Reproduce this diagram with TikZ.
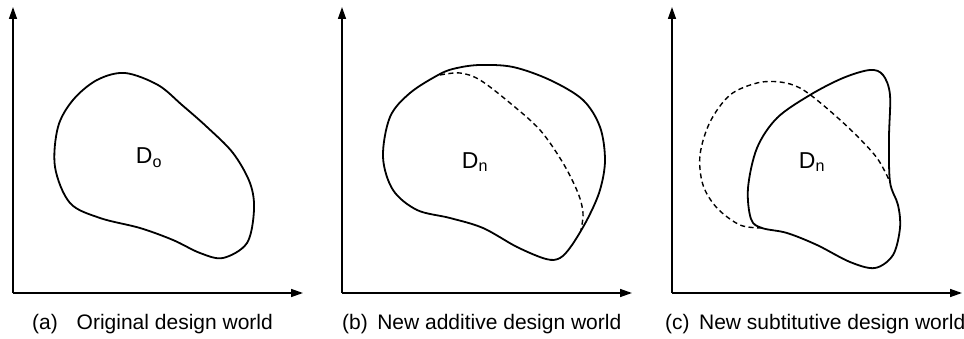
\documentclass[tikz,border=0pt]{standalone}
\usepackage{fontspec}
\setmainfont{Liberation Sans}
\usetikzlibrary{arrows.meta}
\begin{document}
\begin{tikzpicture}[x=1pt,y=-1pt,
  axis/.style={line width=1.5pt,-{Triangle[length=12pt,width=8pt]}},
  region/.style={line width=1.8pt},
  oldregion/.style={line width=1.4pt,dash pattern=on 5pt off 3.5pt},
  lbl/.style={font=\fontsize{23}{26}\selectfont,inner sep=0pt},
  captxt/.style={font=\fontsize{21}{25}\selectfont,inner sep=0pt,anchor=west}]
\useasboundingbox (0,0) rectangle (964,339);
% panel a
\coordinate (oa) at (13,293); \coordinate (ya) at (13,7); \coordinate (xa) at (303,293);
\draw[axis] (oa) -- (ya); \draw[axis] (oa) -- (xa);
\draw[region] plot[smooth cycle,tension=0.55] coordinates {(125,73) (158,85) (182,105) (207,127) (233,153) (250,183) (254,210) (247,243) (223,258) (200,253) (173,240) (140,228) (100,218) (70,203) (55,167) (58,127) (73,100) (97,80)};
\node[lbl] (do) at (149,158) {D\textsubscript{o}};
\node[captxt] (ca) at (32,324) {(a)\hspace{0.9em}Original design world};
% panel b
\coordinate (ob) at (342,293); \coordinate (yb) at (342,7); \coordinate (xb) at (632,293);
\draw[axis] (ob) -- (yb); \draw[axis] (ob) -- (xb);
\draw[region] plot[smooth cycle,tension=0.55] coordinates {(480,65) (513,67) (550,80) (583,100) (600,127) (605,160) (600,190) (588,218) (572,245) (560,258) (546,259) (517,247) (483,228) (450,218) (417,210) (393,190) (383,157) (390,117) (410,93) (440,74) (457,68)};
\draw[oldregion] plot[smooth,tension=0.55] coordinates {(440,75) (460,73) (480,80) (510,103) (540,130) (563,163) (578,193) (583,213) (581,230)};
\node[lbl] (dn1) at (475,162) {D\textsubscript{n}};
\node[captxt] (cb) at (342,324) {(b)\hspace{0.45em}New additive design world};
% panel c
\coordinate (oc) at (672,293); \coordinate (yc) at (672,7); \coordinate (xc) at (962,293);
\draw[axis] (oc) -- (yc); \draw[axis] (oc) -- (xc);
\draw[region] plot[smooth cycle,tension=0.55] coordinates {(870,70) (883,75) (890,95) (889,138) (890,182) (898,205) (900,228) (893,255) (875,268) (850,262) (817,245) (787,233) (762,228) (751,219) (748,188) (757,148) (777,118) (810,95) (843,78)};
\draw[oldregion] plot[smooth,tension=0.55] coordinates {(762,228) (740,225) (717,208) (703,185) (700,155) (710,122) (730,95) (757,83) (780,82) (800,88) (823,105) (853,132) (877,158) (890,182)};
\node[lbl] (dn2) at (812,162) {D\textsubscript{n}};
\node[captxt] (cc) at (665,324) {(c)\hspace{0.45em}New subtitutive design world};
\end{tikzpicture}
\end{document}
